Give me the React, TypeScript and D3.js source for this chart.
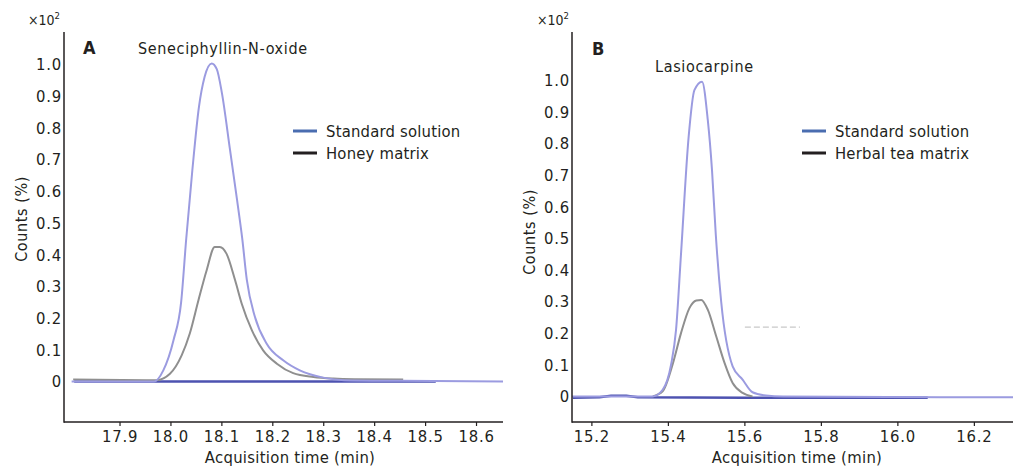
import React from "react";
import * as d3 from "d3";

// ---------- DATA ----------
// Panel A: Seneciphyllin-N-oxide (time in min, counts ×10² %)
const stdA: [number, number][] = [
  [17.805, 0.0], [17.967, 0.0], [17.985, 0.035], [18.005, 0.13], [18.02, 0.25],
  [18.03, 0.45], [18.042, 0.666], [18.055, 0.866], [18.066, 0.96], [18.08, 1.003],
  [18.09, 0.985], [18.1, 0.91], [18.116, 0.73], [18.13, 0.57], [18.14, 0.45],
  [18.149, 0.32], [18.165, 0.203], [18.188, 0.119], [18.221, 0.066], [18.253, 0.035],
  [18.299, 0.012], [18.34, 0.004], [18.45, 0.002], [18.652, 0.0],
];
const matrixA: [number, number][] = [
  [17.808, 0.006], [17.972, 0.004], [17.998, 0.024], [18.021, 0.082], [18.037, 0.151],
  [18.054, 0.256], [18.07, 0.35], [18.086, 0.424], [18.096, 0.424], [18.109, 0.403],
  [18.126, 0.319], [18.139, 0.245], [18.159, 0.161], [18.181, 0.098], [18.208, 0.056],
  [18.24, 0.026], [18.28, 0.014], [18.319, 0.009], [18.36, 0.007], [18.456, 0.006],
];
const baselineA: [number, number][] = [[17.81, 0.0], [18.52, 0.0]];

// Panel B: Lasiocarpine
const stdB: [number, number][] = [
  [15.148, 0.0], [15.359, 0.0], [15.385, 0.021], [15.407, 0.1], [15.42, 0.21],
  [15.433, 0.45], [15.453, 0.821], [15.468, 0.968], [15.488, 0.995], [15.503, 0.874],
  [15.514, 0.716], [15.524, 0.51], [15.538, 0.3], [15.568, 0.095], [15.594, 0.053],
  [15.62, 0.013], [15.655, 0.003], [15.7, 0.0], [16.301, -0.003],
];
const matrixB: [number, number][] = [
  [15.359, 0.0], [15.385, 0.016], [15.412, 0.105], [15.433, 0.2], [15.455, 0.279],
  [15.473, 0.303], [15.486, 0.305], [15.503, 0.274], [15.525, 0.19], [15.547, 0.105],
  [15.568, 0.042], [15.594, 0.011], [15.62, 0.0],
];
const baselineB: [number, number][] = [
  [15.15, -0.004], [15.22, -0.003], [15.25, 0.002], [15.29, 0.002], [15.32, -0.003],
  [15.6, -0.004], [16.078, -0.004],
];
const artifactB: [number, number][] = [[15.6, 0.219], [15.744, 0.219]];

const yTicks = [0, 0.1, 0.2, 0.3, 0.4, 0.5, 0.6, 0.7, 0.8, 0.9, 1.0];
const xTicksA = [17.9, 18.0, 18.1, 18.2, 18.3, 18.4, 18.5, 18.6];
const xTicksB = [15.2, 15.4, 15.6, 15.8, 16.0, 16.2];

const legendLabelsA = ["Standard solution", "Honey matrix"];
const legendLabelsB = ["Standard solution", "Herbal tea matrix"];

// ---------- STYLE ----------
const FONT = "'Liberation Sans Narrow', 'DejaVu Sans Condensed', 'Arial Narrow', sans-serif";
const INK = "#231f20";
const STD_COLOR = "#9b9be0";
const MATRIX_COLOR = "#8f8f8f";
const BASE_COLOR = "#4d52b0";
const LEG_BLUE = "#4a6db0";

interface PanelProps {
  xDomain: [number, number];
  xRange: [number, number];
  yDomain: [number, number];
  xTicks: number[];
  xFmt: (v: number) => string;
  std: [number, number][];
  matrix: [number, number][];
  baseline: [number, number][];
  artifact?: [number, number][];
  letter: string;
  letterX: number;
  letterY: number;
  title: string;
  titleX: number;
  titleY: number;
  legend: string[];
  legX: number;
  ytitleX: number;
  ytitleY: number;
  expX: number;
  xtitleX: number;
}

const TOP = 32;
const BOTTOM = 422;

function Panel(p: PanelProps) {
  const x = d3.scaleLinear().domain(p.xDomain).range(p.xRange);
  const y = d3.scaleLinear().domain(p.yDomain).range([BOTTOM, TOP]);
  const line = d3
    .line<[number, number]>()
    .x((d) => x(d[0]))
    .y((d) => y(d[1]))
    .curve(d3.curveMonotoneX);
  const straight = d3
    .line<[number, number]>()
    .x((d) => x(d[0]))
    .y((d) => y(d[1]));
  const x0 = p.xRange[0];
  const x1 = p.xRange[1];
  return (
    <g fontFamily={FONT} fill={INK}>
      {/* exponent */}
      <text x={p.expX} y={25} fontSize={14}>
        ×10
        <tspan fontSize={9.5} dy={-6}>2</tspan>
      </text>
      {/* y axis title */}
      <text
        transform={`translate(${p.ytitleX},${p.ytitleY}) rotate(-90)`}
        textAnchor="middle"
        fontSize={16}
        letterSpacing={0.6}
      >
        Counts (%)
      </text>
      {/* y ticks */}
      {yTicks.map((t) => (
        <text
          key={t}
          x={x0 - 2}
          y={y(t) + 6}
          textAnchor="end"
          fontSize={16.5}
          letterSpacing={0.8}
        >
          {t === 0 ? "0" : d3.format(".1f")(t)}
        </text>
      ))}
      {/* x ticks */}
      {p.xTicks.map((t) => (
        <g key={t}>
          <line x1={x(t)} x2={x(t)} y1={BOTTOM} y2={BOTTOM + 4} stroke={INK} strokeWidth={1.2} />
          <text x={x(t)} y={441.5} textAnchor="middle" fontSize={16.5} letterSpacing={0.8}>
            {p.xFmt(t)}
          </text>
        </g>
      ))}
      <text x={p.xtitleX} y={463} textAnchor="middle" fontSize={16.5} letterSpacing={0.3}>
        Acquisition time (min)
      </text>
      {/* lines */}
      <path d={straight(p.baseline) || ""} fill="none" stroke={BASE_COLOR} strokeWidth={2.5} />
      {p.artifact && (
        <path
          d={straight(p.artifact) || ""}
          fill="none"
          stroke="#bbbbbb"
          strokeWidth={1}
          strokeDasharray="6,3"
        />
      )}
      <path d={line(p.matrix) || ""} fill="none" stroke={MATRIX_COLOR} strokeWidth={2} />
      <path d={line(p.std) || ""} fill="none" stroke={STD_COLOR} strokeWidth={2} />
      {/* axes */}
      <line x1={x0} x2={x0} y1={TOP} y2={BOTTOM + 0.75} stroke={INK} strokeWidth={1.5} />
      <line x1={x0} x2={x1} y1={BOTTOM} y2={BOTTOM} stroke={INK} strokeWidth={1.5} />
      {/* labels */}
      <text x={p.letterX} y={p.letterY} fontSize={18} fontWeight="bold">
        {p.letter}
      </text>
      <text x={p.titleX} y={p.titleY} fontSize={16} letterSpacing={0.65}>
        {p.title}
      </text>
      {/* legend */}
      {p.legend.map((l, i) => (
        <g key={l}>
          <line
            x1={p.legX}
            x2={p.legX + 24}
            y1={131 + i * 22}
            y2={131 + i * 22}
            stroke={i === 0 ? LEG_BLUE : INK}
            strokeWidth={3}
          />
          <text x={p.legX + 33} y={137 + i * 22} fontSize={16.5} letterSpacing={0.2}>
            {l}
          </text>
        </g>
      ))}
    </g>
  );
}

export default function App() {
  return (
    <svg
      width={1013}
      height={468}
      style={{ position: "absolute", left: 0, top: 0, background: "#fff" }}
    >
      <rect width={1013} height={468} fill="#fff" />
      <Panel
        xDomain={[17.79, 18.652]}
        xRange={[64, 503]}
        yDomain={[-0.128, 1.102]}
        xTicks={xTicksA}
        xFmt={(v) => d3.format(".1f")(v)}
        std={stdA}
        matrix={matrixA}
        baseline={baselineA}
        letter="A"
        letterX={83}
        letterY={54}
        title="Seneciphyllin-N-oxide"
        titleX={138}
        titleY={54}
        legend={legendLabelsA}
        legX={293}
        ytitleX={27}
        ytitleY={219}
        expX={28}
        xtitleX={290}
      />
      <Panel
        xDomain={[15.148, 16.301]}
        xRange={[572, 1013]}
        yDomain={[-0.081, 1.152]}
        xTicks={xTicksB}
        xFmt={(v) => d3.format(".1f")(v)}
        std={stdB}
        matrix={matrixB}
        baseline={baselineB}
        artifact={artifactB}
        letter="B"
        letterX={592}
        letterY={55}
        title="Lasiocarpine"
        titleX={655}
        titleY={72}
        legend={legendLabelsB}
        legX={802}
        ytitleX={535}
        ytitleY={232}
        expX={537}
        xtitleX={797}
      />
    </svg>
  );
}
